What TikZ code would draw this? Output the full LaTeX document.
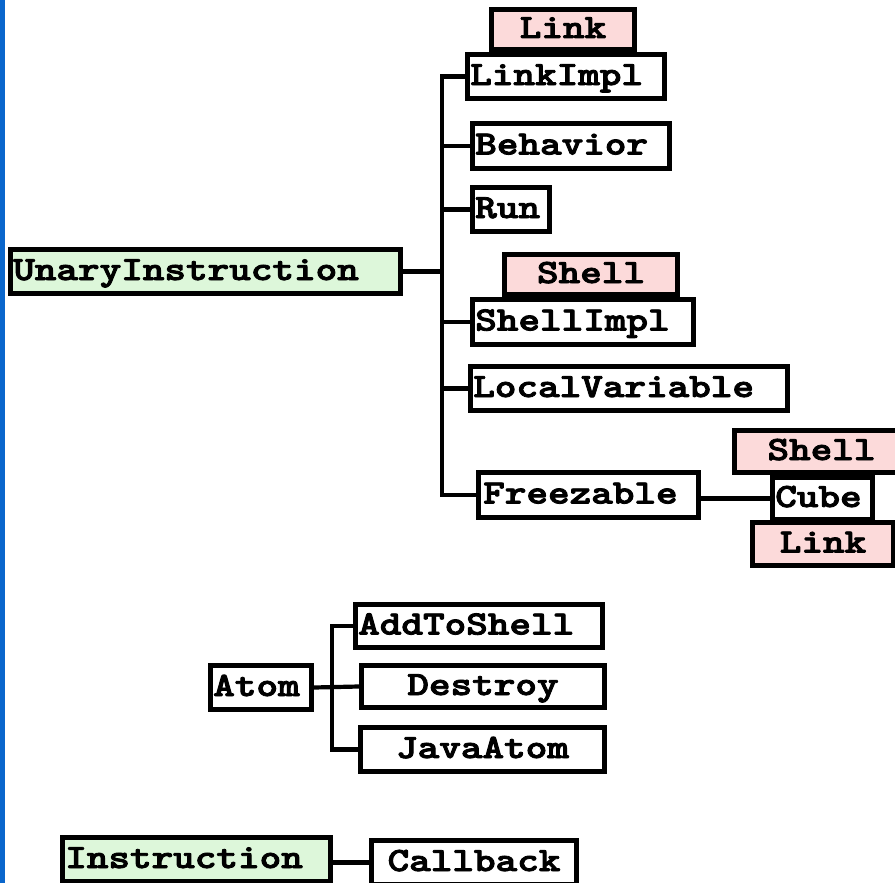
\documentclass[tikz,border=0pt]{standalone}
\usepackage{fontspec}
\newfontfamily\typebold{lmmonolt10-bold.otf}[FakeBold=2.4]
\definecolor{barblue}{HTML}{0A66CC}
\definecolor{ifacepink}{HTML}{FCDADA}
\definecolor{basegreen}{HTML}{DDF7DA}
% bold typewriter labels, widened to a 0.6em character pitch
\newcommand\widetext[1]{\scalebox{1.21}[1]{#1}}
\begin{document}
\begin{tikzpicture}[x=1pt,y=-1pt,
  box/.style={draw=black, line width=4.8pt, fill=white, inner ysep=0pt, inner xsep=3pt,
    font=\typebold\fontsize{34}{34}\selectfont, text height=24pt, text depth=7pt},
  lbox/.style={box, align=left},
  cbox/.style={box, align=center},
  iface/.style={fill=ifacepink},
  root/.style={fill=basegreen},
  wire/.style={line width=4.2pt, line join=miter}]
\useasboundingbox (0,0) rectangle (895,883);
\fill[barblue] (0,0) rectangle (5,883);

% UnaryInstruction hierarchy
\node[lbox, root, text width=384.5pt, minimum height=44.5pt] (ui) at (205.5,271.5) {\widetext{UnaryInstruction}};
\node[cbox, iface, text width=137.5pt, minimum height=40.5pt] (link1) at (563,29.5) {\widetext{Link}};
\node[lbox, text width=191.5pt, minimum height=44.5pt] (linkimpl) at (566,76.5) {\widetext{LinkImpl}};
\node[lbox, text width=191.5pt, minimum height=45.5pt] (behavior) at (571,146) {\widetext{Behavior}};
\node[lbox, text width=71.5pt, minimum height=44.5pt] (run) at (511,209.5) {\widetext{Run}};
\node[cbox, iface, text width=167.5pt, minimum height=40.5pt] (shell1) at (591,274.5) {\widetext{Shell}};
\node[lbox, text width=215.5pt, minimum height=45.5pt] (shellimpl) at (583,322) {\widetext{ShellImpl}};
\node[lbox, text width=311.5pt, minimum height=44.5pt] (localvar) at (629,388.5) {\widetext{LocalVariable}};
\node[lbox, inner xsep=5pt, text width=210.5pt, minimum height=45.5pt] (freezable) at (588.5,495) {\widetext{Freezable}};
\node[cbox, iface, text width=168.5pt, minimum height=42.5pt] (shell2) at (821.5,451.5) {\widetext{Shell}};
\node[cbox, iface, text width=135.5pt, minimum height=43.5pt] (link2) at (823,544) {\widetext{Link}};
\node[lbox, text width=94.5pt, minimum height=42.5pt] (cube) at (822.5,498.5) {\widetext{Cube}};

\coordinate (ut) at (442,271.5);
\draw[wire] (ui.east) -- (ut);
\draw[wire] (linkimpl.west) -| (ut) |- (freezable.west);
\draw[wire] (ut |- behavior.west) -- (behavior.west);
\draw[wire] (ut |- run.west) -- (run.west);
\draw[wire] (ut |- shellimpl.west) -- (shellimpl.west);
\draw[wire] (ut |- localvar.west) -- (localvar.west);
\draw[wire] (cube.west -| freezable.east) -- (cube.west);

% Atom hierarchy
\node[lbox, text width=95.5pt, minimum height=44.5pt] (atom) at (261,687.5) {\widetext{Atom}};
\node[lbox, text width=241.5pt, minimum height=43.5pt] (addtoshell) at (479,626) {\widetext{AddToShell}};
\node[cbox, text width=237.5pt, minimum height=42.5pt] (destroy) at (483,686.5) {\widetext{Destroy}};
\node[cbox, text width=238.5pt, minimum height=44.5pt] (javaatom) at (482.5,749.5) {\widetext{JavaAtom}};

\coordinate (at) at (332,687.5);
\draw[wire] (addtoshell.west) -| (at) |- (javaatom.west);
\draw[wire] (atom.east) -- (destroy.west);

% Instruction
\node[lbox, root, text width=262.5pt, minimum height=44.5pt] (instr) at (196.5,859.5) {\widetext{Instruction}};
\node[cbox, text width=199.5pt, minimum height=44.5pt] (callback) at (474,862.5) {\widetext{Callback}};
\draw[wire] (callback.west -| instr.east) -- (callback.west);
\end{tikzpicture}
\end{document}
